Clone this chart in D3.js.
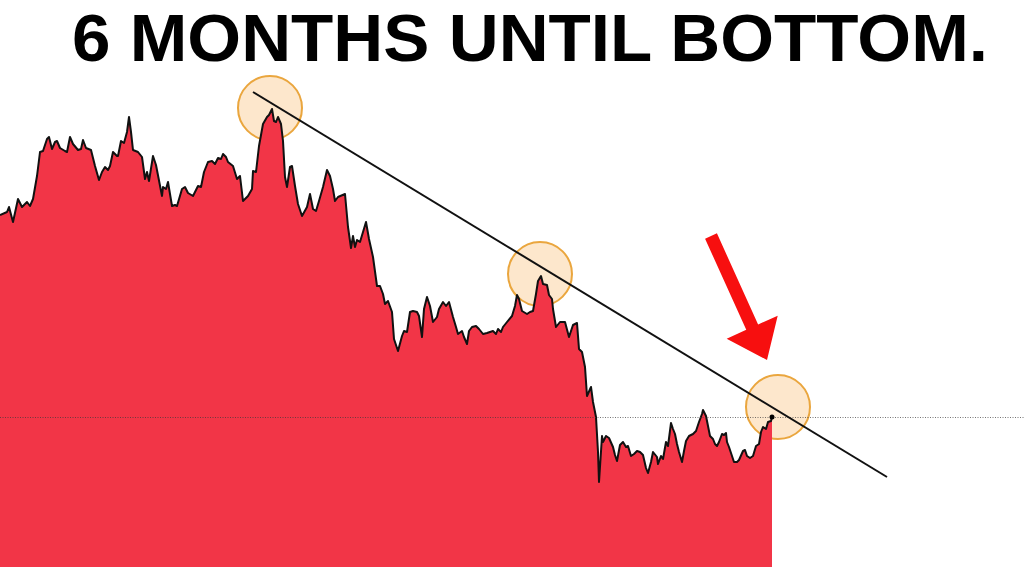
<!DOCTYPE html>
<html>
<head>
<meta charset="utf-8">
<script src="https://cdn.jsdelivr.net/npm/d3@7"></script>
<style>
html,body{margin:0;padding:0;background:#fff;}
svg{display:block;}
</style>
</head>
<body>
<svg id="chart" width="1024" height="576"></svg>
<script>
const titleText = "6 MONTHS UNTIL BOTTOM.";

const days = [0,7,9,13,18,22,27,30,33,37,40,43,47,49,52,55,57,60,65,67,70,73,78,81,83,86,91,95,99,102,105,108,110,113,117,118,121,124,127,129,131,133,138,142,145,147,149,153,156,162,163,166,168,172,175,177,182,185,188,193,198,201,204,208,212,215,218,221,223,226,228,
233,237,240,243,248,252,253,256,259,263,267,269,272,274,276,278,281,283,285,287,290,292,295,298,302,307,310,313,316,319,323,327,330,
333,335,338,345,348,351,353,355,357,360,363,366,369,373,377,380,383,385,388,392,394,398,402,404,407,410,413,417,419,422,424,427,430,433,437,439,443,446,449,453,456,458,462,464,467,469,472,476,479,483,487,490,493,496,498,501,503,507,512,515,517,519,522,527,530,533,536,538,541,543,547,549,552,553,556,560,
565,569,573,577,579,582,585,587,591,593,596,598,599,602,603,606,609,613,615,617,620,623,626,628,631,634,637,640,643,646,648,651,653,657,658,661,663,666,668,671,673,675,677,679,682,684,686,689,693,696,699,702,703,706,708,710,713,715,717,719,722,724,726,727,729,732,734,737,739,743,745,747,750,753,756,759,761,763,766,768,771,772];

const prices = [352,355,360,345,368,360,365,361,368,391,415,416,428,430,418,425,426,419,416,415,430,423,417,418,427,419,417,401,387,395,400,397,401,415,411,411,426,424,435,450,435,417,415,410,388,395,386,411,402,371,380,378,385,361,362,361,378,380,374,371,381,380,395,405,406,403,409,408,413,410,405,
401,388,391,366,371,378,396,395,421,443,450,452,458,446,445,450,443,426,390,380,400,401,381,363,351,360,373,358,356,366,380,397,391,
378,366,370,373,340,319,331,320,327,325,335,345,328,310,281,281,273,263,266,255,228,216,231,236,235,255,256,255,251,230,258,270,261,245,250,258,265,261,265,250,240,233,236,230,223,236,240,241,238,233,234,235,236,233,238,235,240,245,251,261,272,268,256,253,255,256,273,286,291,283,282,272,268,258,240,245,
245,230,242,244,218,215,200,171,180,165,150,115,85,131,125,131,129,120,112,106,122,125,120,121,111,113,116,115,112,99,94,105,115,110,103,111,108,125,121,144,138,133,123,115,105,116,126,131,133,136,145,153,157,151,141,131,128,123,121,125,133,132,134,125,120,111,105,105,107,116,117,111,109,111,121,123,135,140,138,145,146,150];

// annotations in data coordinates [day, price]
const trendStart = [253, 475];
const trendEnd = [887, 90];
const highlightDays = [270, 540, 778];
const highlightPrices = [459, 293, 160];

const svg = d3.select("#chart");
const x = d3.scaleLinear().domain([0, 772]).range([0, 772]);
const y = d3.scaleLinear().domain([0, 500]).range([567, 67]);

const data = days.map((d, i) => ({day: d, price: prices[i]}));

// highlight circles (behind the area)
svg.selectAll("circle.hl")
  .data(highlightDays.map((d, i) => [d, highlightPrices[i]]))
  .join("circle")
  .attr("class", "hl")
  .attr("cx", d => x(d[0]))
  .attr("cy", d => y(d[1]))
  .attr("r", 32)
  .attr("fill", "#fbd3a2")
  .attr("fill-opacity", 0.55)
  .attr("stroke", "#eaa63e")
  .attr("stroke-width", 2);

// area
svg.append("path")
  .datum(data)
  .attr("fill", "#f23547")
  .attr("d", d3.area().x(d => x(d.day)).y0(y(0)).y1(d => y(d.price)));

// line
svg.append("path")
  .datum(data)
  .attr("fill", "none")
  .attr("stroke", "#111")
  .attr("stroke-width", 2)
  .attr("stroke-linejoin", "round")
  .attr("d", d3.line().x(d => x(d.day)).y(d => y(d.price)));

// dotted last-price line
const last = data[data.length - 1];
svg.append("line")
  .attr("x1", 0).attr("x2", 1024)
  .attr("y1", y(last.price) + 0.5).attr("y2", y(last.price) + 0.5)
  .attr("stroke", "#3a3a3a")
  .attr("stroke-opacity", 0.7)
  .attr("stroke-width", 1)
  .attr("stroke-dasharray", "1,1.5");

// trend line
svg.append("line")
  .attr("x1", x(trendStart[0])).attr("y1", y(trendStart[1]))
  .attr("x2", x(trendEnd[0])).attr("y2", y(trendEnd[1]))
  .attr("stroke", "#111")
  .attr("stroke-width", 2);

// end dot
svg.append("circle")
  .attr("cx", x(last.day)).attr("cy", y(last.price))
  .attr("r", 2.5).attr("fill", "#000");

// arrow
(function(){
  const s = [711, 236], t = [767, 360];
  const dx = t[0]-s[0], dy = t[1]-s[1], L = Math.hypot(dx, dy);
  const u = [dx/L, dy/L], n = [-u[1], u[0]];
  const hw = 6.5, headW = 28, headL = 36;
  const b = [t[0]-u[0]*headL, t[1]-u[1]*headL];
  const p = (c, k) => [c[0]+n[0]*k, c[1]+n[1]*k];
  const pts = [p(s, hw), p(b, hw), p(b, headW), t, p(b, -headW), p(b, -hw), p(s, -hw)];
  svg.append("polygon")
    .attr("points", pts.map(q => q.join(",")).join(" "))
    .attr("fill", "#f70f0f");
})();

// title
const title = svg.append("text")
  .attr("x", 530).attr("y", 61)
  .attr("text-anchor", "middle")
  .attr("font-family", "'Liberation Sans', Arial, sans-serif")
  .attr("font-weight", "bold")
  .attr("font-size", 67)
  .attr("fill", "#000")
  .text(titleText);
title.attr("textLength", 916).attr("lengthAdjust", "spacingAndGlyphs");
</script>
</body>
</html>
